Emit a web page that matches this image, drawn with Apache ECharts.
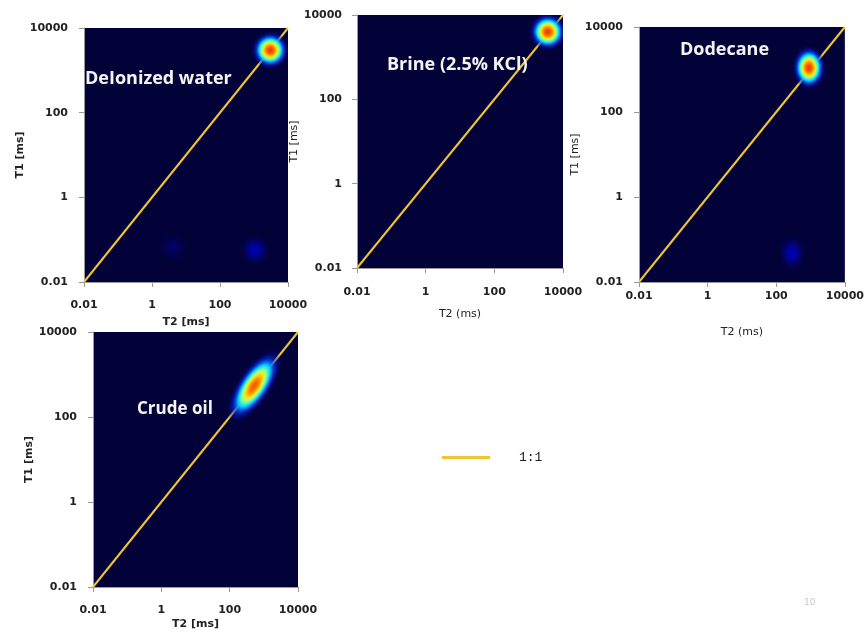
<!DOCTYPE html>
<html><head><meta charset="utf-8">
<script src="https://cdn.jsdelivr.net/npm/echarts@6/dist/echarts.min.js"></script>
<style>html,body{margin:0;padding:0;background:#fff}#c{width:867px;height:634px}</style>
</head><body><div id="c"></div>
<script>
// ---------- data ----------
const tickLabels = ['0.01', '1', '100', '10000'];
const sampleNames = ['DeIonized water', 'Brine (2.5% KCl)', 'Dodecane', 'Crude oil'];
const xAxisNames = ['T2 [ms]', 'T2 (ms)', 'T2 (ms)', 'T2 [ms]'];
const yAxisName = 'T1 [ms]';
const oneToOne = [[0.01, 0.01], [10000, 10000]];
// T1-T2 map peaks: [T2 (ms), T1 (ms), relative amplitude] (drawn in order)
const blobsDeionized = [[4.2, 0.067, 0.06], [1070, 0.057, 0.1], [3000, 3000, 0.95]];
const blobsBrine = [[3600, 4000, 0.95]];
const blobsDodecane = [[290, 0.048, 0.1], [900, 1100, 0.95]];
const blobsCrude = [[520, 540, 0.9]];
const legendLabel = '1:1';
const pageNumber = '10';

// ---------- styling ----------
const NAVY = '#020238';
const LINE = '#efc630';
const jetStops = [
  [0, [2, 2, 56]], [0.12, [0, 0, 200]], [0.28, [0, 70, 255]], [0.45, [0, 230, 255]],
  [0.6, [170, 255, 130]], [0.72, [255, 230, 0]], [0.85, [255, 120, 0]], [1, [235, 30, 0]]
];
function jet(v) {
  v = Math.max(0, Math.min(1, v));
  for (let i = 1; i < jetStops.length; i++) {
    if (v <= jetStops[i][0]) {
      const [a, ca] = jetStops[i - 1], [b, cb] = jetStops[i];
      const f = (v - a) / (b - a);
      return ca.map((c, k) => Math.round(c + (cb[k] - c) * f));
    }
  }
  return jetStops[jetStops.length - 1][1];
}
function blobGradient(a) {
  const stops = [];
  for (let i = 0; i <= 12; i++) {
    const t = i / 12;
    const v = a * Math.exp(-2.3 * t * t);
    const c = jet(v);
    const alpha = Math.min(1, (1 - t) / 0.4) * Math.min(1, v / 0.09);
    stops.push({ offset: t, color: `rgba(${c[0]},${c[1]},${c[2]},${alpha.toFixed(3)})` });
  }
  return new echarts.graphic.RadialGradient(0.5, 0.5, 0.5, stops);
}

const panels = [
  { grid: { left: 84, top: 28, width: 204, height: 254 }, blobs: blobsDeionized, r: 19, sx: 1, sy: 1, rot: 0,
    yGap: 52, xGap: 35, xMargin: 18, yMargin: 16, bold: true, text: [85, 70], font: 18 },
  { grid: { left: 357, top: 15, width: 206, height: 253 }, blobs: blobsBrine, r: 19, sx: 1, sy: 1, rot: 0,
    yGap: 47, xGap: 41, xMargin: 19, yMargin: 15, bold: false, text: [387, 56], font: 18 },
  { grid: { left: 639, top: 27, width: 207, height: 255 }, blobs: blobsDodecane, r: 17, sx: 1, sy: 1.3, rot: 0,
    yGap: 47, xGap: 45, xMargin: 9, yMargin: 16, bold: false, text: [680, 41], font: 18 },
  { grid: { left: 93, top: 332, width: 205, height: 255 }, blobs: blobsCrude, r: 17, sx: 2.5, sy: 1, rot: 56 * Math.PI / 180,
    yGap: 58, xGap: 32, xMargin: 18, yMargin: 16, bold: true, text: [137, 401], font: 17 }
];

const tickVals = tickLabels.map(Number);
function fmt(v) {
  let best = 0;
  tickVals.forEach((t, i) => { if (Math.abs(Math.log10(t) - Math.log10(v)) < Math.abs(Math.log10(tickVals[best]) - Math.log10(v))) best = i; });
  return tickLabels[best];
}
const labelFont = { fontFamily: 'DejaVu Sans', fontWeight: 'bold', fontSize: 11, color: '#222' };

const grids = [], xAxes = [], yAxes = [], series = [], graphics = [];
panels.forEach((p, i) => {
  grids.push(Object.assign({ show: true, backgroundColor: NAVY, borderWidth: 0 }, p.grid));
  const common = {
    type: 'log', logBase: 10, gridIndex: i,
    min: tickVals[0], max: tickVals[tickVals.length - 1],
    splitLine: { show: false },
    axisLine: { show: true, lineStyle: { color: '#999', width: 1 } },
    axisTick: { show: true, length: 5, lineStyle: { color: '#999' }, customValues: tickVals },
    nameLocation: 'middle',
    nameTextStyle: { fontFamily: 'DejaVu Sans', fontWeight: p.bold ? 'bold' : 'normal', fontSize: 11, color: '#222' }
  };
  xAxes.push(Object.assign({}, common, {
    name: xAxisNames[i], nameGap: p.xGap,
    axisLabel: Object.assign({ margin: p.xMargin, customValues: tickVals, formatter: fmt, showMinLabel: true, showMaxLabel: true }, labelFont)
  }));
  yAxes.push(Object.assign({}, common, {
    name: yAxisName, nameGap: p.yGap,
    axisLabel: Object.assign({ margin: p.yMargin, customValues: tickVals, formatter: fmt, showMinLabel: true, showMaxLabel: true }, labelFont)
  }));
  series.push({
    type: 'line', name: legendLabel, xAxisIndex: i, yAxisIndex: i, data: oneToOne,
    symbol: 'none', silent: true, z: 2,
    lineStyle: { color: LINE, width: 2 }, itemStyle: { color: LINE }
  });
  series.push({
    type: 'custom', xAxisIndex: i, yAxisIndex: i, data: p.blobs, clip: true, silent: true, z: 3,
    renderItem: (params, api) => {
      const pt = api.coord([api.value(0), api.value(1)]);
      const a = api.value(2);
      return {
        type: 'circle', x: pt[0], y: pt[1], scaleX: p.sx, scaleY: p.sy, rotation: p.rot,
        shape: { cx: 0, cy: 0, r: p.r },
        style: { fill: blobGradient(a) }
      };
    }
  });
  graphics.push({
    type: 'text', left: p.text[0], top: p.text[1], z: 10,
    style: { text: sampleNames[i], fill: '#f4f4f4', font: `bold ${p.font}px "Open Sans"` }
  });
});
graphics.push({
  type: 'text', left: 804, top: 598,
  style: { text: pageNumber, fill: '#c8c8c8', font: '9px "DejaVu Sans"' }
});

const chart = echarts.init(document.getElementById('c'), null, { renderer: 'canvas' });
chart.setOption({
  animation: false,
  backgroundColor: '#fff',
  grid: grids, xAxis: xAxes, yAxis: yAxes, series: series, graphic: graphics,
  legend: {
    data: [legendLabel], left: 437, top: 446, icon: 'rect', itemWidth: 48, itemHeight: 3,
    selectedMode: false,
    textStyle: { fontFamily: 'Liberation Mono', fontSize: 13, color: '#222', padding: [0, 0, 0, 24] }
  }
});
</script></body></html>
